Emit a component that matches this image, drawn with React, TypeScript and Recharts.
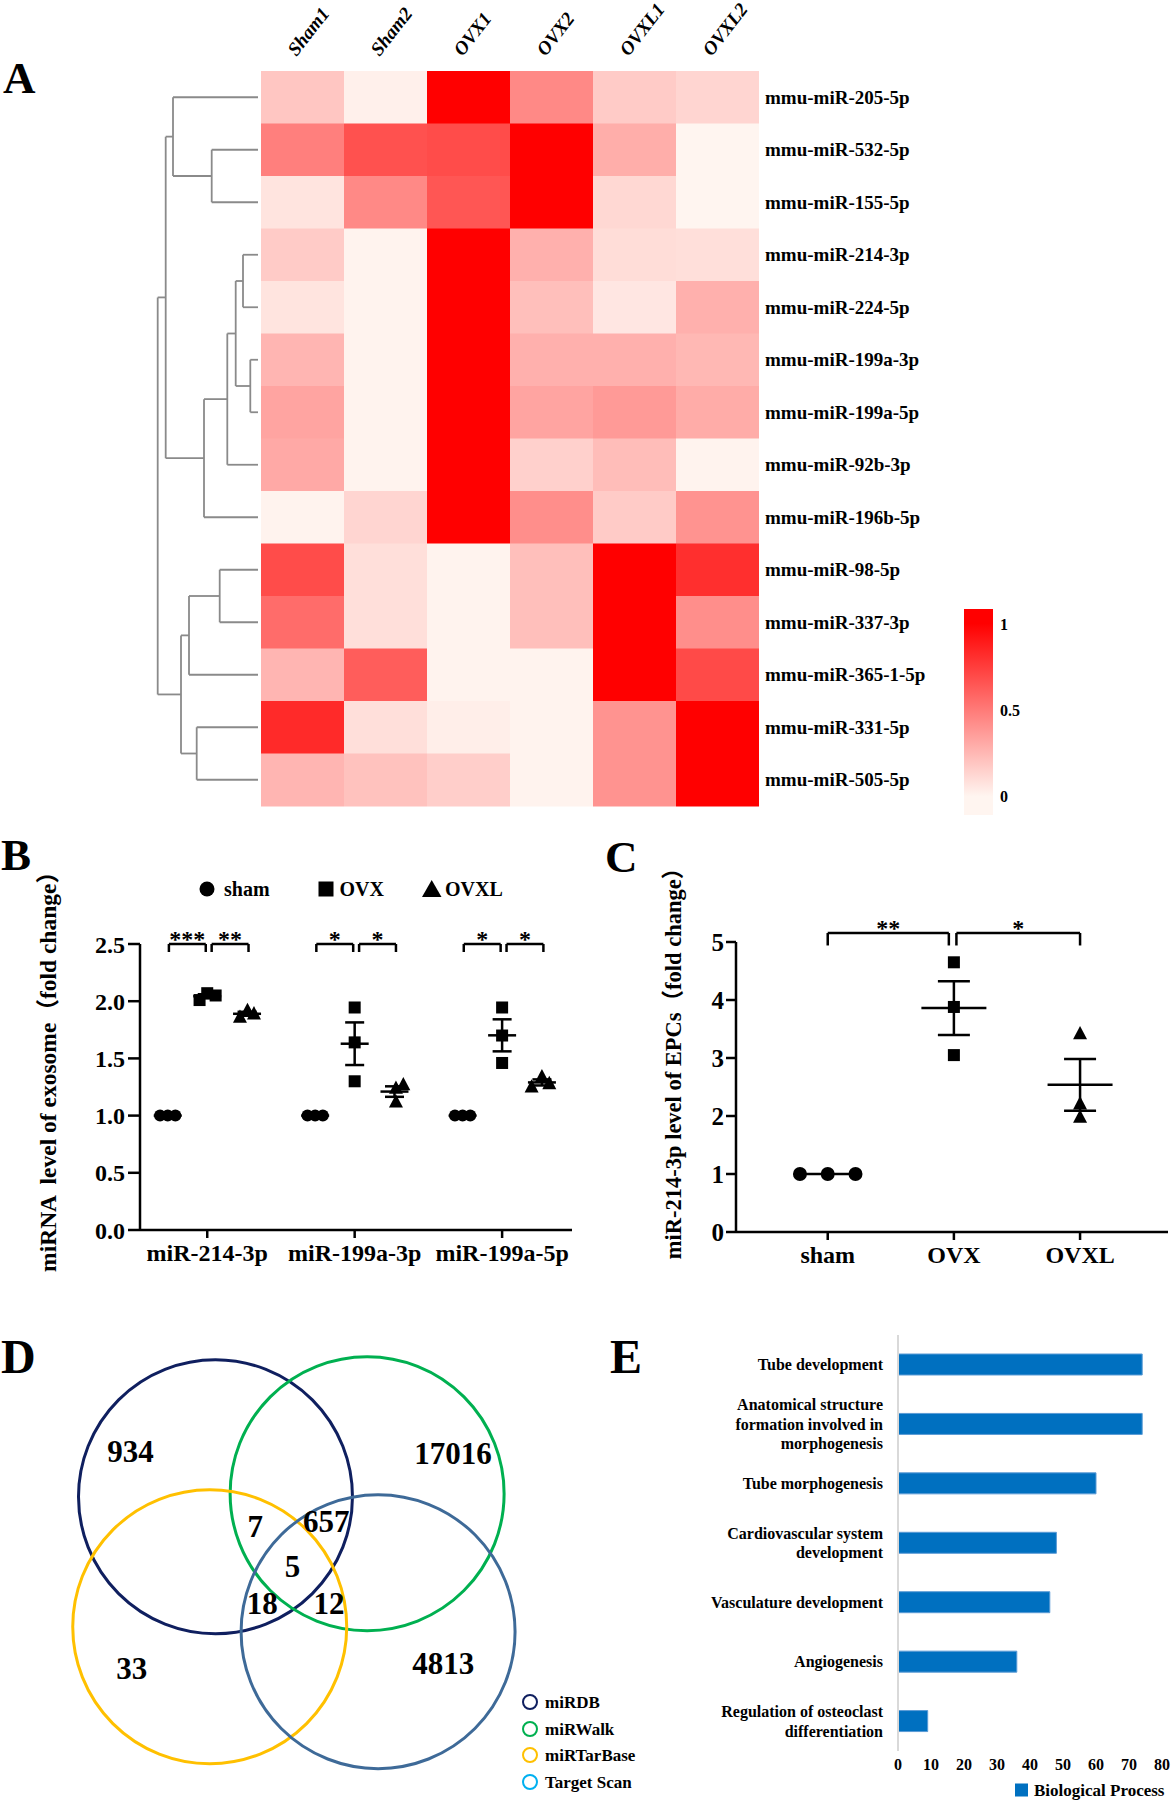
import React from 'react';
import {
  BarChart, Bar, Cell, XAxis, YAxis, ScatterChart, Scatter, ErrorBar,
  ReferenceLine, ReferenceDot,
} from 'recharts';

const SERIF = '"Liberation Serif", "Times New Roman", serif';
const SERIF_CJK = '"Liberation Serif", "Noto Sans CJK SC", serif';

// ---------- A: heatmap ----------
const samples = ['Sham1', 'Sham2', 'OVX1', 'OVX2', 'OVXL1', 'OVXL2'];
const mirnas = [
  'mmu-miR-205-5p', 'mmu-miR-532-5p', 'mmu-miR-155-5p', 'mmu-miR-214-3p',
  'mmu-miR-224-5p', 'mmu-miR-199a-3p', 'mmu-miR-199a-5p', 'mmu-miR-92b-3p',
  'mmu-miR-196b-5p', 'mmu-miR-98-5p', 'mmu-miR-337-3p', 'mmu-miR-365-1-5p',
  'mmu-miR-331-5p', 'mmu-miR-505-5p',
];
const heatSham1 = [0.19, 0.48, 0.07, 0.17, 0.07, 0.26, 0.33, 0.31, 0.01, 0.69, 0.56, 0.26, 0.83, 0.26];
const heatSham2 = [0.02, 0.67, 0.44, 0.01, 0.01, 0.01, 0.01, 0.01, 0.13, 0.09, 0.09, 0.62, 0.09, 0.21];
const heatOVX1 = [1, 0.69, 0.65, 1, 1, 1, 1, 1, 1, 0.01, 0.01, 0.01, 0.03, 0.16];
const heatOVX2 = [0.44, 1, 1, 0.28, 0.22, 0.28, 0.33, 0.15, 0.42, 0.22, 0.22, 0.01, 0.01, 0.01];
const heatOVXL1 = [0.17, 0.29, 0.12, 0.1, 0.06, 0.28, 0.37, 0.23, 0.17, 1, 1, 1, 0.4, 0.4];
const heatOVXL2 = [0.13, 0, 0, 0.09, 0.28, 0.25, 0.3, 0.01, 0.4, 0.81, 0.42, 0.7, 1, 1];
const heatCols = [heatSham1, heatSham2, heatOVX1, heatOVX2, heatOVXL1, heatOVXL2];

// dendrogram merges: nodes 0..13 are rows, merge i creates node 14 + i
const dendroLeft = [1, 0, 3, 5, 16, 18, 19, 15, 9, 22, 12, 23, 21];
const dendroRight = [2, 14, 4, 6, 17, 7, 8, 20, 10, 11, 13, 24, 25];
const dendroHeight = [46.3, 85, 15, 7.7, 22.3, 30.7, 54, 92.3, 38.3, 69, 61.3, 77, 100.3];

const colorbarTicks = [0, 0.5, 1];
const colorbarSpan = [-0.11, 1.087];

// ---------- B ----------
const bGroups = ['miR-214-3p', 'miR-199a-3p', 'miR-199a-5p'];
const bSham = [[1, 1, 1], [1, 1, 1], [1, 1, 1]];
const bOVX = [[2.01, 2.07, 2.05], [1.945, 1.64, 1.3], [1.945, 1.7, 1.46]];
const bOVXL = [[1.86, 1.92, 1.89], [1.12, 1.24, 1.27], [1.25, 1.34, 1.28]];
const bShamJitter = [[-0.052, 0, 0.052], [-0.052, 0, 0.052], [-0.052, 0, 0.052]];
const bOVXJitter = [[-0.052, 0, 0.057], [0, 0, 0], [0, 0, 0]];
const bOVXLJitter = [[-0.048, 0.003, 0.047], [0.01, 0.01, 0.06], [-0.07, 0, 0.05]];
const bSlot = [-0.268, 0, 0.27];
const bBracketFrom = [-0.26, 0.03];
const bBracketTo = [-0.01, 0.28];
const bStars = [['***', '**'], ['*', '*'], ['*', '*']];
const bYTicks = [0, 0.5, 1, 1.5, 2, 2.5];

// ---------- C ----------
const cGroups = ['sham', 'OVX', 'OVXL'];
const cValues = [[1, 1, 1], [4.65, 3.88, 3.05], [3.42, 2.21, 1.98]];
const cJitter = [[-0.22, 0, 0.22], [0, 0, 0], [0, 0, 0]];
const cBracketFrom = [0, 1.02];
const cBracketTo = [0.96, 2.0];
const cStars = ['**', '*'];
const cYTicks = [0, 1, 2, 3, 4, 5];

// ---------- D ----------
const vennSets = ['miRDB', 'miRWalk', 'miRTarBase', 'Target Scan'];
const vennCx = [1.573, 2.68, 1.531, 2.76];
const vennCy = [1.29, 1.268, 2.239, 2.275];
const vennR = [1, 1, 1, 1];
const vennStroke = ['#0f1f5f', '#00b050', '#ffc000', '#3e6a98'];
const vennLegendColor = ['#0f1f5f', '#00b050', '#ffc000', '#00b0f0'];
const vennCounts = [934, 17016, 7, 657, 5, 18, 12, 33, 4813];
const vennCountX = [0.953, 3.307, 1.864, 2.382, 2.135, 1.914, 2.401, 0.961, 3.236];
const vennCountY = [0.961, 0.973, 1.509, 1.472, 1.801, 2.068, 2.068, 2.542, 2.506];

// ---------- E ----------
const eTerms = [
  'Tube development',
  'Anatomical structure\nformation involved in\nmorphogenesis',
  'Tube morphogenesis',
  'Cardiovascular system\ndevelopment',
  'Vasculature development',
  'Angiogenesis',
  'Regulation of osteoclast\ndifferentiation',
];
const eCounts = [74, 74, 60, 48, 46, 36, 9];
const eTicks = [0, 10, 20, 30, 40, 50, 60, 70, 80];

// ---------- helpers ----------
function heatColor(v: number) {
  const g = Math.round(245 - 245 * v);
  const b = Math.round(240 - 240 * v);
  return `rgb(255,${g},${b})`;
}

function meanSem(vals: number[]) {
  const m = vals.reduce((a, b) => a + b, 0) / vals.length;
  const sd = Math.sqrt(vals.reduce((a, b) => a + (b - m) * (b - m), 0) / (vals.length - 1));
  return { m, sem: sd / Math.sqrt(vals.length) };
}

function points(vals: number[][], jit: number[][], slot: number) {
  return vals.flatMap((row, g) => row.map((v, k) => ({ x: g + slot + jit[g][k], y: v })));
}

const dot = (r: number) => (p: any) => <circle cx={p.cx} cy={p.cy} r={r} fill="#000" />;
const square = (s: number) => (p: any) => (
  <rect x={p.cx - s / 2} y={p.cy - s / 2} width={s} height={s} fill="#000" />
);
const tri = (s: number) => (p: any) => (
  <polygon
    points={`${p.cx},${p.cy - s * 0.55} ${p.cx - s / 2},${p.cy + s * 0.4} ${p.cx + s / 2},${p.cy + s * 0.4}`}
    fill="#000"
  />
);
const meanLine = (half: number) => (p: any) => (
  <line x1={p.cx - half} x2={p.cx + half} y1={p.cy} y2={p.cy} stroke="#000" strokeWidth={2.5} />
);
const starText = (s: string) => (p: any) => (
  <text x={p.cx} y={p.cy + 3} textAnchor="middle" fontFamily={SERIF} fontSize={24} fontWeight={700} fill="#000">
    {s}
  </text>
);

const axisStroke = { stroke: '#000', strokeWidth: 2.5 };

// ---------- panel A ----------
function SampleTick(props: any) {
  const { x, y, payload } = props;
  const name = samples[Math.floor(payload.value)];
  return (
    <text
      transform={`translate(${x - 6},${y - 14}) rotate(-52)`}
      fontFamily={SERIF}
      fontSize={19}
      fontWeight={700}
      fontStyle="italic"
      fill="#000"
    >
      {name}
    </text>
  );
}

function Heatmap() {
  const rows = mirnas.map((name) => {
    const r: any = { name };
    samples.forEach((s) => (r[s] = 1));
    return r;
  });
  return (
    <BarChart
      width={720}
      height={830}
      data={rows}
      layout="vertical"
      margin={{ top: 6, right: 11, bottom: 24, left: 11 }}
      barCategoryGap={0}
      barGap={0}
    >
      <XAxis
        type="number"
        orientation="top"
        domain={[0, 6]}
        ticks={[0.5, 1.5, 2.5, 3.5, 4.5, 5.5]}
        height={65}
        axisLine={false}
        tickLine={false}
        tickSize={0}
        tickMargin={0}
        interval={0}
        tick={<SampleTick />}
      />
      <YAxis
        type="category"
        dataKey="name"
        orientation="right"
        width={200}
        axisLine={false}
        tickLine={false}
        tickSize={0}
        tickMargin={6}
        interval={0}
        tick={{ fontFamily: SERIF, fontSize: 19, fontWeight: 700, fill: '#000' }}
      />
      {samples.map((s, j) => (
        <Bar key={s} dataKey={s} stackId="hm" isAnimationActive={false}>
          {heatCols[j].map((v, i) => (
            <Cell key={i} fill={heatColor(v)} />
          ))}
        </Bar>
      ))}
    </BarChart>
  );
}

function Dendrogram() {
  const ys: number[] = mirnas.map((_, i) => i);
  const hs: number[] = mirnas.map(() => 0);
  const segs: number[][][] = [];
  dendroLeft.forEach((a, i) => {
    const b = dendroRight[i];
    const h = dendroHeight[i];
    segs.push([[hs[a], ys[a]], [h, ys[a]]]);
    segs.push([[hs[b], ys[b]], [h, ys[b]]]);
    segs.push([[h, ys[a]], [h, ys[b]]]);
    ys.push((ys[a] + ys[b]) / 2);
    hs.push(h);
  });
  const leaves = mirnas.map((_, i) => ({ x: 0, y: i }));
  return (
    <ScatterChart width={110} height={830} margin={{ top: 71, right: 2, bottom: 24, left: 0 }}>
      <XAxis type="number" dataKey="x" domain={[0, 108]} reversed hide />
      <YAxis type="number" dataKey="y" domain={[-0.5, 13.5]} reversed hide />
      <Scatter data={leaves} shape={() => <g />} isAnimationActive={false} />
      {segs.map((s, i) => (
        <ReferenceLine
          key={i}
          segment={[{ x: s[0][0], y: s[0][1] }, { x: s[1][0], y: s[1][1] }]}
          stroke="#8a8a8a"
          strokeWidth={1.8}
          ifOverflow="visible"
        />
      ))}
    </ScatterChart>
  );
}

function ColorBar() {
  const data = [{ k: 'scale', span: colorbarSpan }];
  return (
    <BarChart width={100} height={225} data={data} margin={{ top: 9, right: 0, bottom: 10, left: 4 }} barCategoryGap={0}>
      <XAxis dataKey="k" hide />
      <YAxis
        type="number"
        orientation="right"
        domain={colorbarSpan}
        ticks={colorbarTicks}
        allowDataOverflow
        width={67}
        axisLine={false}
        tickLine={false}
        tickSize={0}
        tickMargin={7}
        tick={{ fontFamily: SERIF, fontSize: 16, fontWeight: 700, fill: '#000' }}
      />
      <Bar dataKey="span" fill="url(#heatGrad)" isAnimationActive={false} />
    </BarChart>
  );
}

// ---------- panel B ----------
function PanelB() {
  const shamPts = points(bSham, bShamJitter, bSlot[0]);
  const ovxPts = points(bOVX, bOVXJitter, bSlot[1]);
  const ovxlPts = points(bOVXL, bOVXLJitter, bSlot[2]);
  const means = [bSham, bOVX, bOVXL].flatMap((set, s) =>
    set.map((vals, g) => {
      const { m, sem } = meanSem(vals);
      return { x: g + bSlot[s], y: m, sem };
    })
  );
  const top = 2.5;
  const foot = 2.43;
  return (
    <ScatterChart width={600} height={460} margin={{ top: 124, right: 28, bottom: 0, left: 0 }}>
      <XAxis
        type="number"
        dataKey="x"
        domain={[-0.456, 2.474]}
        ticks={[0, 1, 2]}
        tickFormatter={(v: number) => bGroups[v]}
        axisLine={axisStroke}
        tickLine={axisStroke}
        tickSize={8}
        tickMargin={6}
        height={50}
        interval={0}
        tick={{ fontFamily: SERIF, fontSize: 24, fontWeight: 700, fill: '#000' }}
      />
      <YAxis
        type="number"
        dataKey="y"
        domain={[0, 2.5]}
        ticks={bYTicks}
        tickFormatter={(v: number) => v.toFixed(1)}
        axisLine={axisStroke}
        tickLine={axisStroke}
        tickSize={12}
        tickMargin={3}
        width={140}
        tick={{ fontFamily: SERIF, fontSize: 24, fontWeight: 700, fill: '#000' }}
      />
      {bGroups.map((_, g) =>
        bBracketFrom.map((f, k) => {
          const x1 = g + f;
          const x2 = g + bBracketTo[k];
          return (
            <React.Fragment key={`${g}-${k}`}>
              <ReferenceLine segment={[{ x: x1, y: foot }, { x: x1, y: top }]} stroke="#000" strokeWidth={2.5} ifOverflow="visible" />
              <ReferenceLine segment={[{ x: x1, y: top }, { x: x2, y: top }]} stroke="#000" strokeWidth={2.5} ifOverflow="visible" />
              <ReferenceLine segment={[{ x: x2, y: top }, { x: x2, y: foot }]} stroke="#000" strokeWidth={2.5} ifOverflow="visible" />
              <ReferenceDot x={(x1 + x2) / 2} y={top} r={0} ifOverflow="visible" shape={starText(bStars[g][k])} />
            </React.Fragment>
          );
        })
      )}
      <Scatter data={shamPts} shape={dot(6)} isAnimationActive={false} />
      <Scatter data={ovxPts} shape={square(12)} isAnimationActive={false} />
      <Scatter data={ovxlPts} shape={tri(14)} isAnimationActive={false} />
      <Scatter data={means} shape={meanLine(14)} isAnimationActive={false}>
        <ErrorBar dataKey="sem" direction="y" width={9.5} stroke="#000" strokeWidth={2.5} />
      </Scatter>
    </ScatterChart>
  );
}

// ---------- panel C ----------
function PanelC() {
  const pts = (g: number) => points([cValues[g]], [cJitter[g]], 0).map((p) => ({ ...p, x: p.x + g }));
  const means = cValues.map((vals, g) => {
    const { m, sem } = meanSem(vals);
    return { x: g, y: m, sem };
  });
  const top = 5.155;
  const foot = 4.94;
  return (
    <ScatterChart width={573} height={460} margin={{ top: 122, right: 5, bottom: 0, left: 0 }}>
      <XAxis
        type="number"
        dataKey="x"
        domain={[-0.727, 2.697]}
        ticks={[0, 1, 2]}
        tickFormatter={(v: number) => cGroups[v]}
        axisLine={axisStroke}
        tickLine={axisStroke}
        tickSize={8}
        tickMargin={6}
        height={48}
        interval={0}
        tick={{ fontFamily: SERIF, fontSize: 24, fontWeight: 700, fill: '#000' }}
      />
      <YAxis
        type="number"
        dataKey="y"
        domain={[0, 5]}
        ticks={cYTicks}
        axisLine={axisStroke}
        tickLine={axisStroke}
        tickSize={10}
        tickMargin={2}
        width={136}
        tick={{ fontFamily: SERIF, fontSize: 25, fontWeight: 700, fill: '#000' }}
      />
      {cBracketFrom.map((x1, k) => {
        const x2 = cBracketTo[k];
        return (
          <React.Fragment key={k}>
            <ReferenceLine segment={[{ x: x1, y: foot }, { x: x1, y: top }]} stroke="#000" strokeWidth={2.5} ifOverflow="visible" />
            <ReferenceLine segment={[{ x: x1, y: top }, { x: x2, y: top }]} stroke="#000" strokeWidth={2.5} ifOverflow="visible" />
            <ReferenceLine segment={[{ x: x2, y: top }, { x: x2, y: foot }]} stroke="#000" strokeWidth={2.5} ifOverflow="visible" />
            <ReferenceDot x={(x1 + x2) / 2} y={top} r={0} ifOverflow="visible" shape={starText(cStars[k])} />
          </React.Fragment>
        );
      })}
      <Scatter data={means} shape={meanLine(32.5)} isAnimationActive={false}>
        <ErrorBar dataKey="sem" direction="y" width={16} stroke="#000" strokeWidth={2.5} />
      </Scatter>
      <Scatter data={pts(0)} shape={dot(7)} isAnimationActive={false} />
      <Scatter data={pts(1)} shape={square(12)} isAnimationActive={false} />
      <Scatter data={pts(2)} shape={tri(14)} isAnimationActive={false} />
    </ScatterChart>
  );
}

// ---------- panel D ----------
const VENN_PX = 600 / 4.38;
function PanelD() {
  const circles = vennSets.map((name, i) => ({ name, x: vennCx[i], y: vennCy[i], r: vennR[i], color: vennStroke[i] }));
  const labels = vennCounts.map((c, i) => ({ label: String(c), x: vennCountX[i], y: vennCountY[i] }));
  const ring = (p: any) => {
    const d = p.payload || p;
    return <circle cx={p.cx} cy={p.cy} r={d.r * VENN_PX} fill="none" stroke={d.color} strokeWidth={3} />;
  };
  const countText = (p: any) => {
    const d = p.payload || p;
    return (
      <text x={p.cx} y={p.cy} textAnchor="middle" dominantBaseline="central" fontFamily={SERIF} fontSize={31} fontWeight={700} fill="#000">
        {d.label}
      </text>
    );
  };
  return (
    <ScatterChart width={600} height={480} margin={{ top: 0, right: 0, bottom: 0, left: 0 }}>
      <XAxis type="number" dataKey="x" domain={[0, 4.38]} hide />
      <YAxis type="number" dataKey="y" domain={[0, 3.504]} reversed hide />
      <Scatter data={circles} shape={ring} isAnimationActive={false} />
      <Scatter data={labels} shape={countText} isAnimationActive={false} />
    </ScatterChart>
  );
}

// ---------- panel E ----------
function TermTick(props: any) {
  const { x, y, payload } = props;
  const lines = String(payload.value).split('\n');
  const lh = 19.5;
  return (
    <g>
      {lines.map((l, i) => (
        <text
          key={i}
          x={x}
          y={y + (i - (lines.length - 1) / 2) * lh + 5.5}
          textAnchor="end"
          fontFamily={SERIF}
          fontSize={16}
          fontWeight={700}
          fill="#000"
        >
          {l}
        </text>
      ))}
    </g>
  );
}

function PanelE() {
  const rows = eTerms.map((term, i) => ({ term, count: eCounts[i] }));
  return (
    <BarChart width={573} height={480} data={rows} layout="vertical" margin={{ top: 15, right: 11, bottom: 0, left: 0 }}>
      <XAxis
        type="number"
        domain={[0, 80]}
        ticks={eTicks}
        axisLine={false}
        tickLine={false}
        tickSize={0}
        tickMargin={8}
        height={49}
        interval={0}
        tick={{ fontFamily: SERIF, fontSize: 16, fontWeight: 700, fill: '#000' }}
      />
      <YAxis
        type="category"
        dataKey="term"
        width={298}
        axisLine={{ stroke: '#d9d9d9', strokeWidth: 2 }}
        tickLine={false}
        tickSize={0}
        tickMargin={15}
        interval={0}
        tick={<TermTick />}
      />
      <Bar dataKey="count" fill="#0070c0" stroke="#5b9bd5" strokeWidth={1} barSize={21} isAnimationActive={false} />
    </BarChart>
  );
}

// ---------- text overlay: panel letters, axis titles, legends ----------
function Overlay() {
  const letter = { fontFamily: SERIF, fontSize: 45, fontWeight: 700, fill: '#000' };
  const legendB = { fontFamily: SERIF, fontSize: 20, fontWeight: 700, fill: '#000' };
  const small = { fontFamily: SERIF, fontSize: 17, fontWeight: 700, fill: '#000' };
  const dY = [1702, 1729, 1755, 1782];
  return (
    <svg width={1173} height={1800} style={{ position: 'absolute', left: 0, top: 0, pointerEvents: 'none' }}>
      <defs>
        <linearGradient id="heatGrad" x1="0" y1="0" x2="0" y2="1">
          <stop offset="7%" stopColor="#ff0000" />
          <stop offset="91%" stopColor="#fff5f0" />
        </linearGradient>
      </defs>
      <text x={3} y={93} {...letter}>A</text>
      <text x={1} y={870} {...letter}>B</text>
      <text x={605} y={872} {...letter}>C</text>
      <text x={1} y={1373} {...letter} fontSize={48}>D</text>
      <text x={610} y={1373} {...letter} fontSize={48}>E</text>

      <text
        transform="translate(56,1066) rotate(-90)"
        textAnchor="middle"
        fontFamily={SERIF_CJK}
        fontSize={23.5}
        fontWeight={700}
        fill="#000"
        style={{ whiteSpace: 'pre' }}
      >
        {'miRNA  level of exosome（fold change）'}
      </text>
      <text
        transform="translate(681,1058) rotate(-90)"
        textAnchor="middle"
        fontFamily={SERIF_CJK}
        fontSize={22.5}
        fontWeight={700}
        fill="#000"
      >
        {'miR-214-3p level of EPCs（fold change）'}
      </text>

      <circle cx={207} cy={889} r={7.5} fill="#000" />
      <text x={224} y={889} dominantBaseline="central" {...legendB}>sham</text>
      <rect x={318.5} y={881.5} width={15} height={15} fill="#000" />
      <text x={339.5} y={889} dominantBaseline="central" {...legendB}>OVX</text>
      <polygon points="431.7,880 422,897 441.5,897" fill="#000" />
      <text x={445} y={889} dominantBaseline="central" {...legendB}>OVXL</text>

      {vennSets.map((s, i) => (
        <g key={s}>
          <circle cx={530} cy={dY[i]} r={7} fill="none" stroke={vennLegendColor[i]} strokeWidth={2} />
          <text x={545} y={dY[i]} dominantBaseline="central" {...small}>{s}</text>
        </g>
      ))}

      <rect x={1015} y={1783.5} width={13} height={13} fill="#0070c0" />
      <text x={1034} y={1790} dominantBaseline="central" {...small}>Biological Process</text>
    </svg>
  );
}

export default function App() {
  return (
    <div style={{ position: 'absolute', left: 0, top: 0, width: 1173, height: 1800, background: '#fff' }}>
      <div style={{ position: 'absolute', left: 150, top: 0 }}><Dendrogram /></div>
      <div style={{ position: 'absolute', left: 250, top: 0 }}><Heatmap /></div>
      <div style={{ position: 'absolute', left: 960, top: 600 }}><ColorBar /></div>
      <div style={{ position: 'absolute', left: 0, top: 820 }}><PanelB /></div>
      <div style={{ position: 'absolute', left: 600, top: 820 }}><PanelC /></div>
      <div style={{ position: 'absolute', left: 0, top: 1320 }}><PanelD /></div>
      <div style={{ position: 'absolute', left: 600, top: 1320 }}><PanelE /></div>
      <Overlay />
    </div>
  );
}
